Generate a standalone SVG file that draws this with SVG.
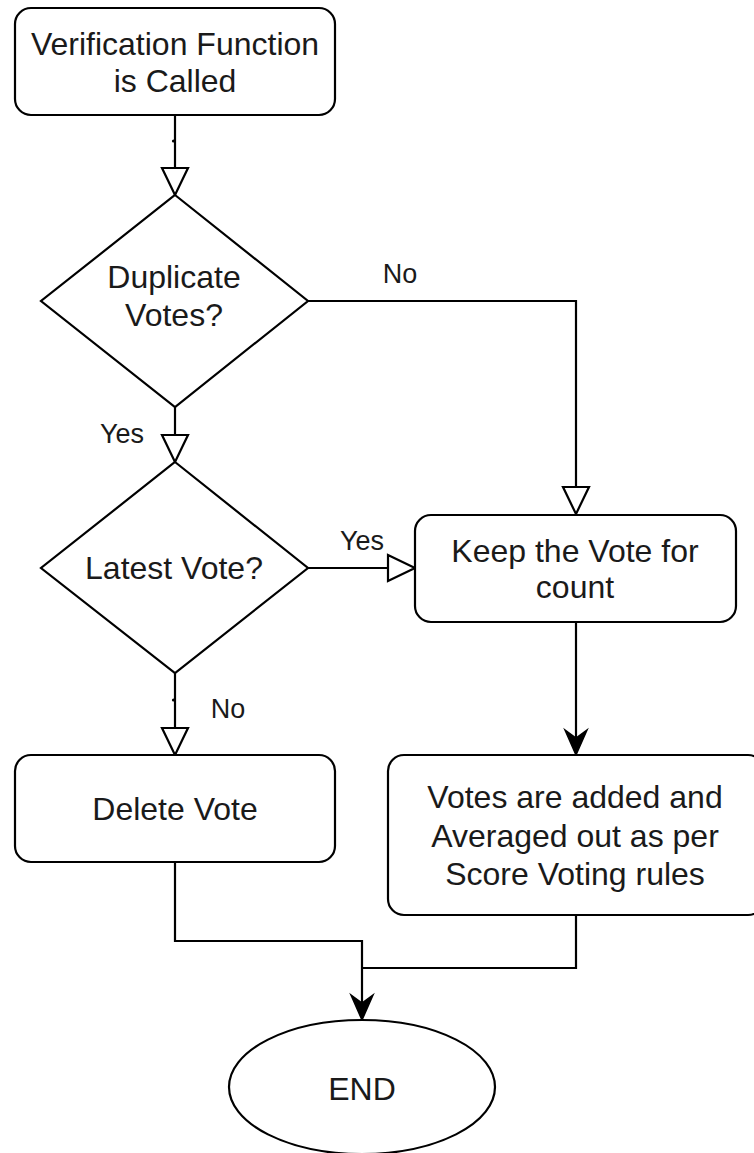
<svg xmlns="http://www.w3.org/2000/svg" width="754" height="1153" viewBox="0 0 754 1153">
<style>
.box{fill:#fff;stroke:#000;stroke-width:2.2}
.t{font-family:"Liberation Sans",Arial,Helvetica,sans-serif;font-size:32px;fill:#1a1a1a;text-anchor:middle}
.lbl{font-family:"Liberation Sans",Arial,Helvetica,sans-serif;font-size:27px;fill:#1a1a1a;text-anchor:middle}
.ln{fill:none;stroke:#000;stroke-width:2.2}
.open{fill:#fff;stroke:#000;stroke-width:2.2;stroke-linejoin:miter}
.fill{fill:#000;stroke:#000;stroke-width:1.5}
</style>
<rect width="754" height="1153" fill="#fff"/>
<g id="connectors">
  <path class="ln" d="M175,115 V168"/>
  <circle cx="173.5" cy="141" r="1.6" fill="#000"/>
  <path class="open" d="M162,168 H188 L175,195 Z"/>
  <path class="ln" d="M175,407 V435"/>
  <path class="open" d="M162,435 H188 L175,462 Z"/>
  <path class="ln" d="M308,301 H576 V487"/>
  <path class="open" d="M563,487 H589 L576,514 Z"/>
  <path class="ln" d="M308,568 H388"/>
  <path class="open" d="M388,555 V581 L415,568 Z"/>
  <path class="ln" d="M175,673 V728"/>
  <circle cx="173.5" cy="700" r="1.6" fill="#000"/>
  <path class="open" d="M162,728 H188 L175,755 Z"/>
  <path class="ln" d="M576,622 V740"/>
  <path class="fill" d="M576,755 L565,730 L576,738 L587,730 Z"/>
  <path class="ln" d="M175,862 V941 H362 V1005"/>
  <path class="ln" d="M576,915 V968 H362"/>
  <path class="fill" d="M362,1020 L351,995 L362,1003 L373,995 Z"/>
</g>
<g id="start">
  <rect class="box" x="15" y="8" width="320" height="107" rx="16"/>
  <text class="t" x="175" y="55">Verification Function</text>
  <text class="t" x="175" y="92">is Called</text>
</g>
<g id="duplicate">
  <path class="box" d="M175,195 L308,301 L175,407 L41,301 Z"/>
  <text class="t" x="174" y="288">Duplicate</text>
  <text class="t" x="174" y="326">Votes?</text>
</g>
<g id="latest">
  <path class="box" d="M175,462 L308,568 L175,673 L41,568 Z"/>
  <text class="t" x="174" y="579">Latest Vote?</text>
</g>
<g id="keep">
  <rect class="box" x="415" y="515" width="321" height="107" rx="16"/>
  <text class="t" x="575" y="562">Keep the Vote for</text>
  <text class="t" x="575" y="598">count</text>
</g>
<g id="delete">
  <rect class="box" x="15" y="755" width="320" height="107" rx="16"/>
  <text class="t" x="175" y="820">Delete Vote</text>
</g>
<g id="votes">
  <rect class="box" x="388" y="755" width="376" height="160" rx="16"/>
  <text class="t" x="575" y="808">Votes are added and</text>
  <text class="t" x="575" y="847">Averaged out as per</text>
  <text class="t" x="575" y="885">Score Voting rules</text>
</g>
<g id="end">
  <ellipse class="box" cx="362" cy="1087" rx="133" ry="67"/>
  <text class="t" x="362" y="1100">END</text>
</g>
<g id="labels">
  <text class="lbl" x="400" y="283">No</text>
  <text class="lbl" x="122" y="443">Yes</text>
  <text class="lbl" x="362" y="550">Yes</text>
  <text class="lbl" x="228" y="718">No</text>
</g>
</svg>
